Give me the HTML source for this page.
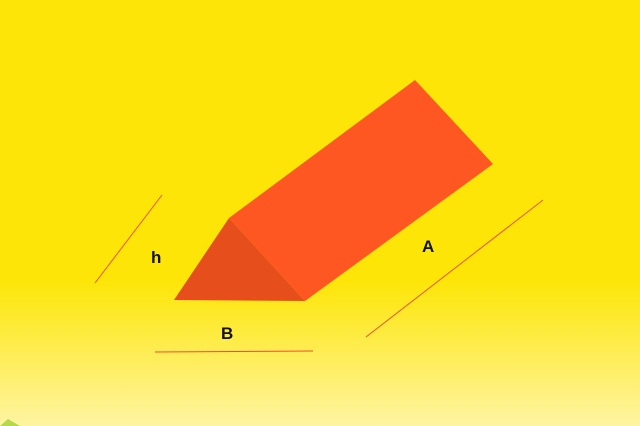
<!DOCTYPE html>
<html><head><meta charset="utf-8"><style>
html,body{margin:0;padding:0;width:640px;height:426px;overflow:hidden}
svg{display:block}
text{font-family:"Liberation Sans",sans-serif;font-weight:bold;font-size:17px;fill:#111}
</style></head><body>
<svg width="640" height="426">
<defs><linearGradient id="bg" x1="0" y1="0" x2="0" y2="1">
<stop offset="0" stop-color="#fde607"/><stop offset="0.66" stop-color="#fde607"/>
<stop offset="1" stop-color="#fef4a2"/></linearGradient></defs>
<rect width="640" height="426" fill="url(#bg)"/>
<polygon points="0,426 8,419 20,426" fill="#b5d94a"/>
<polygon points="229,218 415,80 493,164 305,301" fill="#ff5722"/>
<polygon points="229,218 174,300 305,301" fill="#e64f1c"/>
<line x1="95" y1="283" x2="162" y2="195" stroke="#f0502a" stroke-width="1"/>
<line x1="155" y1="352" x2="313" y2="351" stroke="#f0502a" stroke-width="1"/>
<line x1="366" y1="337" x2="543" y2="200" stroke="#f0502a" stroke-width="1"/>
<text x="151" y="263">h</text>
<text x="221" y="339">B</text>
<text x="422" y="252">A</text>
</svg>
</body></html>
